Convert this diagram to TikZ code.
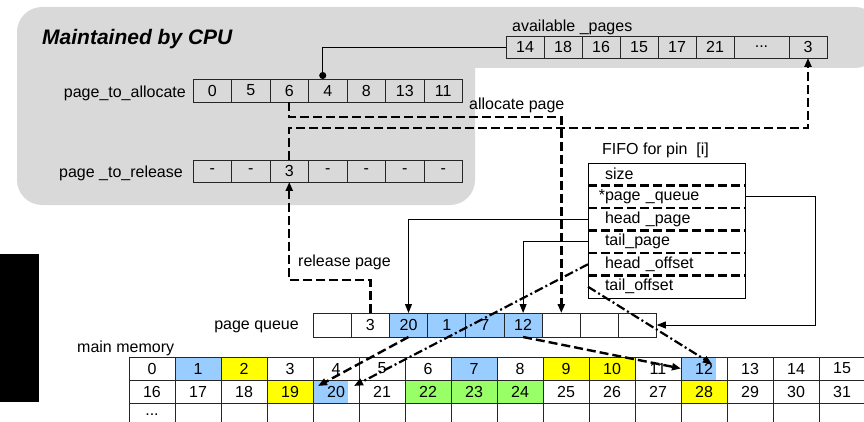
\documentclass[tikz,border=0pt]{standalone}
\usepackage{fontspec}
\setmainfont{Liberation Sans}
\usepackage{tikz}
\usetikzlibrary{arrows.meta, positioning, calc}

\definecolor{cpugray}{RGB}{217,217,217}
\definecolor{pageblue}{RGB}{153,204,255}
\definecolor{pageyellow}{RGB}{255,255,0}
\definecolor{pagegreen}{RGB}{153,255,102}

\tikzset{
  cell/.style={draw=black!85, line width=0.9pt, inner sep=0pt, outer sep=0pt, minimum height=22pt},
  fifo/.style={minimum width=157pt, minimum height=22.5pt, text width=123pt, inner xsep=17pt, inner ysep=0pt, outer sep=0pt, align=left},
  tag/.style={inner sep=0pt},
  bigdash/.style={line width=2.4pt, dash pattern=on 9pt off 4pt},
  dashdot/.style={line width=2.2pt, dash pattern=on 9pt off 3pt on 2pt off 3pt},
  link/.style={line width=0.9pt},
  partblue/.style={path picture={\fill[pageblue] (path picture bounding box.north west) rectangle ([xshift=-11pt]path picture bounding box.south east);}},
  page1/.style={fill=pageblue}, page2/.style={fill=pageyellow},
  page7/.style={fill=pageblue}, page9/.style={fill=pageyellow},
  page10/.style={fill=pageyellow}, page12/.style={partblue},
  page19/.style={fill=pageyellow}, page20/.style={partblue},
  page22/.style={fill=pagegreen}, page23/.style={fill=pagegreen},
  page24/.style={fill=pagegreen}, page28/.style={fill=pageyellow}
}

\begin{document}
\begin{tikzpicture}[x=1pt,y=-1pt,>={Triangle[length=9pt,width=7pt]},font=\fontsize{16}{18}\selectfont]
\useasboundingbox (0,0) rectangle (864,422);
% CPU side
\fill[cpugray] (17,120) [rounded corners=25pt] -- (17,7) -- (880,7) -- (880,68) [sharp corners] -- (475,68) [rounded corners=25pt] -- (475,205) -- (17,205) -- cycle;
\fill[black] (0,254) rectangle (39,402);
\node[tag, anchor=base west, font=\fontsize{21}{24}\selectfont\bfseries\itshape] (cputitle) at (42,45) {Maintained by CPU};

% available pages
\node[tag, anchor=base west] (availname) at (512,32) {available \_pages};
\foreach \v [count=\i] in {14,18,16,15,17,21}
  \node[cell, minimum width=38pt] (avail\i) at ({506+38*(\i-0.5)},47) {\v};
\node[cell, minimum width=55pt, right=0pt of avail6] (avail7) {...};
\node[cell, minimum width=38pt, right=0pt of avail7] (avail8) {3};

% page_to_allocate and page_to_release
\node[tag, anchor=base east] (allocname) at (186,98) {page\_to\_allocate};
\foreach \v [count=\i] in {0,5,6,4,8,13,11}
  \node[cell, minimum width=38.5pt, minimum height=23pt] (alloc\i) at ({193+38.5*(\i-0.5)},90.5) {\v};
\node[tag, anchor=base east] (relname) at (183,178) {page \_to\_release};
\foreach \v [count=\i] in {-,-,3,-,-,-,-}
  \node[cell, minimum width=38.5pt] (release\i) at ({193+38.5*(\i-0.5)},171) {\v};
\draw[link, -{Circle[length=7pt]}] (avail1.west) -| ([xshift=-5pt]alloc4.north);

% FIFO
\node[tag, anchor=base west] (fifoname) at (602,155) {FIFO for pin~~[i]};
\node[fifo] (fsize) at (666.5,174.25) {size};
\node[fifo, below=0pt of fsize] (fqueue) {\llap{*}page \_queue};
\node[fifo, below=0pt of fqueue] (fhead) {head \_page};
\node[fifo, below=0pt of fhead] (ftail) {tail\_page};
\node[fifo, below=0pt of ftail] (fhoff) {head \_offset};
\node[fifo, below=0pt of fhoff] (ftoff) {tail\_offset};
\draw[link] (fsize.north west) rectangle (ftoff.south east);
\foreach \r in {fsize,fqueue,fhead,ftail,fhoff}
  \draw[bigdash] (\r.south west) -- (\r.south east);

% page queue
\node[tag, anchor=base east] (queuename) at (299,329) {page queue};
\foreach \v/\f [count=\i] in {{}/white,3/white,20/pageblue,1/pageblue,7/pageblue,12/pageblue,{}/white,{}/white,{}/white}
  \node[cell, fill=\f, minimum width=38.2pt, minimum height=24pt] (queue\i) at ({313+38.2*(\i-0.5)},325) {\v};

% main memory
\node[tag, anchor=base west] (memname) at (77,352) {main memory};
\foreach \r in {0,1,2}
  \foreach \c in {0,...,15} {
    \pgfmathtruncatemacro{\n}{16*\r+\c}
    \ifnum\r<2 \def\txt{\n}\else\ifnum\c=0 \def\txt{...}\else\def\txt{}\fi\fi
    \node[cell, minimum width=46pt, minimum height=23pt, page\n/.try] (mem\n) at ({129+46*(\c+0.5)},{368.5+23*\r}) {\txt};
  }

% allocate / release
\draw[bigdash, ->] (alloc3.south) -- ++(0,15) -| (queue7.north);
\node[tag, anchor=base west] (alloclabel) at (469,110) {allocate page};
\draw[bigdash, ->] (release3.north) -- ++(0,-32) -| (avail8.south);
\draw[bigdash, ->] (queue2.north) -- ++(0,-33) -| (release3.south);
\node[tag, anchor=base west] (rellabel) at (298,266) {release page};

% FIFO pointers
\draw[link, ->] (fqueue.east) -- ++(70,0) |- (queue9.east);
\draw[link, ->] (fhead.west) -| (queue3.north);
\draw[link, ->] (ftail.west) -| (queue6.north);
\draw[dashdot, ->] (fhoff.west) -- ($(mem20.north east)+(-5,6)$);
\draw[dashdot, ->] (ftoff.west) -- ($(mem12.north east)+(-15,7)$);
\draw[bigdash, ->] (queue3.south) -- ($(mem20.north west)+(5,6)$);
\draw[bigdash, ->] (queue6.south) -- (mem12.west);
\end{tikzpicture}
\end{document}
